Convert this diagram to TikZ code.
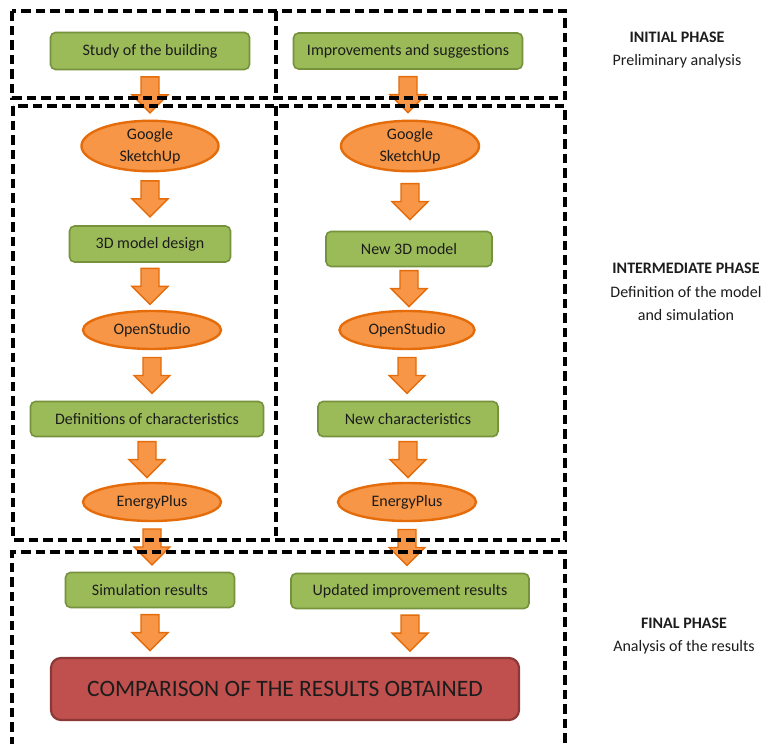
\documentclass[tikz,border=0pt]{standalone}
\usepackage{fontspec}
\setmainfont{Carlito}
\usetikzlibrary{shapes.geometric,calc}

\definecolor{gfill}{HTML}{9BBB59}
\definecolor{gborder}{HTML}{76923C}
\definecolor{ofill}{HTML}{F79646}
\definecolor{oborder}{HTML}{E46C0A}
\definecolor{rfill}{HTML}{C0504D}
\definecolor{rborder}{HTML}{8C3836}
\definecolor{txt}{HTML}{1C1C1C}

\newcommand{\bodyfont}{\fontsize{16}{22}\selectfont}

\tikzset{
  greenbox/.style={draw=gborder, fill=gfill, line width=1.6pt, rounded corners=5pt,
    text=txt, font=\bodyfont, inner sep=0pt},
  toolell/.style={ellipse, draw=oborder, fill=ofill, line width=2.4pt,
    text=txt, font=\bodyfont, inner sep=0pt, align=center},
  resultbox/.style={draw=rborder, fill=rfill, line width=2.2pt, rounded corners=10pt,
    text=txt, font=\fontsize{23.5}{28}\selectfont, inner sep=0pt},
  phaselabel/.style={text=txt, font=\fontsize{16}{23.5}\selectfont, align=center},
  phasebox/.style={draw=black, line width=3.2pt, dash pattern=on 9.5pt off 5pt},
  blockarrow/.style={draw=oborder, fill=ofill, line width=1.4pt, line join=miter,
    to path={let \p1=(\tikztostart), \p3=($(\tikztostart)!0.5!(\tikztotarget)$) in
      (\x1-9pt,\y3+18pt) -- (\x1+9pt,\y3+18pt) -- (\x1+9pt,\y3) -- (\x1+18pt,\y3)
      -- (\x1,\y3-18pt) -- (\x1-18pt,\y3) -- (\x1-9pt,\y3) -- cycle}},
}

\begin{document}
\begin{tikzpicture}[x=1pt,y=-1pt]
\useasboundingbox (0,0) rectangle (764,744);

% left column: analysis of the existing building
\node[greenbox, minimum width=199, minimum height=37] (study) at (150,51) {Study of the building};
\node[toolell, minimum width=137, minimum height=47] (gsL) at (150,146) {Google\\SketchUp};
\node[greenbox, minimum width=161, minimum height=36] (modelL) at (150,244) {3D model design};
\node[toolell, minimum width=138, minimum height=38] (osL) at (152,330) {OpenStudio};
\node[greenbox, minimum width=233, minimum height=35] (defL) at (147,419) {Definitions of characteristics};
\node[toolell, minimum width=138, minimum height=38] (epL) at (152,502) {EnergyPlus};
\node[greenbox, minimum width=169, minimum height=35] (simres) at (150,590) {Simulation results};

% right column: improved building
\node[greenbox, minimum width=229, minimum height=36] (improve) at (408,51) {Improvements and suggestions};
\node[toolell, minimum width=138, minimum height=47] (gsR) at (410,146) {Google\\SketchUp};
\node[greenbox, minimum width=166, minimum height=35] (modelR) at (409,249) {New 3D model};
\node[toolell, minimum width=135, minimum height=38] (osR) at (407,330) {OpenStudio};
\node[greenbox, minimum width=180, minimum height=35] (defR) at (408,419) {New characteristics};
\node[toolell, minimum width=138, minimum height=38] (epR) at (407,502) {EnergyPlus};
\node[greenbox, minimum width=238, minimum height=35] (updres) at (410,591) {Updated improvement results};

% final comparison
\node[resultbox, minimum width=468, minimum height=62] (compare) at (285,689) {COMPARISON OF THE RESULTS OBTAINED};

% flow arrows
\draw[blockarrow] (study.south) to (gsL.north);
\draw[blockarrow] (gsL.south) to (modelL.north);
\draw[blockarrow] (modelL.south) to (osL.north);
\draw[blockarrow] (osL.south) to (defL.north);
\draw[blockarrow] (defL.south) to (epL.north);
\draw[blockarrow] (epL.south) to (simres.north);
\draw[blockarrow] (simres.south) to (compare.north -| simres.south);

\draw[blockarrow] (improve.south) to (gsR.north);
\draw[blockarrow] (gsR.south) to (modelR.north);
\draw[blockarrow] (modelR.south) to (osR.north);
\draw[blockarrow] (osR.south) to (defR.north);
\draw[blockarrow] (defR.south) to (epR.north);
\draw[blockarrow] (epR.south) to (updres.north);
\draw[blockarrow] (updres.south) to (compare.north -| updres.south);

% phase frames
\draw[phasebox] (12,11) rectangle (565,98);
\draw[phasebox] (276,11) -- (276,98);
\draw[phasebox] (13,106) rectangle (565,540);
\draw[phasebox] (276,106) -- (276,540);
\draw[phasebox] (12,746) -- (12,552) -- (565,552) -- (565,746);

% phase descriptions
\node[phaselabel] (initial) at (677,50) {\textbf{INITIAL PHASE}\\Preliminary analysis};
\node[phaselabel] (intermediate) at (686,292) {\textbf{INTERMEDIATE PHASE}\\Definition of the model\\and simulation};
\node[phaselabel] (final) at (684,636) {\textbf{FINAL PHASE}\\Analysis of the results};
\end{tikzpicture}
\end{document}
